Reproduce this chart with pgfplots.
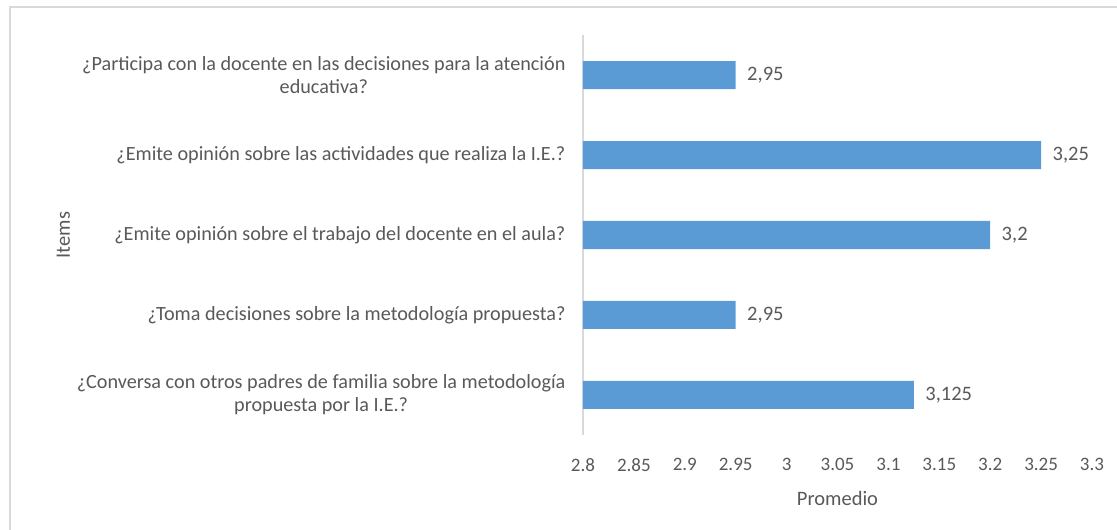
\documentclass[border=0pt]{standalone}
\usepackage{pgfplots}
\pgfplotsset{compat=1.18}
\usepackage{fontspec}
\setmainfont{Carlito}
\definecolor{barblue}{RGB}{91,155,213}
\definecolor{txtgray}{RGB}{89,89,89}
\definecolor{linegray}{RGB}{217,217,217}
\begin{document}
\begin{tikzpicture}
\useasboundingbox (0,0) rectangle (1117pt,530pt);
\draw[linegray, line width=1.2pt] (10pt,0pt) -- (10pt,523pt) -- (1117pt,523pt);
\begin{axis}[at={(583pt,95pt)}, anchor=south west, scale only axis,
  width=509pt, height=400pt,
  xbar, bar width=28pt,
  xmin=2.8, xmax=3.3, ymin=-0.5, ymax=4.5,
  xtick={2.8,2.85,...,3.3},
  xticklabels={2.8,2.85,2.9,2.95,3,3.05,3.1,3.15,3.2,3.25,3.3},
  ytick={0,1,2,3,4},
  yticklabels={{¿Conversa con otros padres de familia sobre la metodología\\propuesta por la I.E.?},
    {¿Toma decisiones sobre la metodología propuesta?},
    {¿Emite opinión sobre el trabajo del docente en el aula?},
    {¿Emite opinión sobre las actividades que realiza la I.E.?},
    {¿Participa con la docente en las decisiones para la atención\\educativa?}},
  yticklabel style={align=center, font=\fontsize{20.2}{23}\selectfont, text=txtgray, xshift=-14pt},
  xticklabel style={font=\fontsize{19}{22}\selectfont, text=txtgray, yshift=-20pt},
  /pgf/number format/assume math mode=true,
  major tick length=0pt,
  axis lines*=left,
  x axis line style={draw=none},
  y axis line style={draw=linegray, line width=1.2pt},
  xlabel={Promedio}, ylabel={Items},
  label style={font=\fontsize{20.5}{24}\selectfont, text=txtgray},
  xlabel style={yshift=-13pt},
  nodes near coords, point meta=explicit symbolic,
  every node near coord/.append style={anchor=west, font=\fontsize{20.5}{24}\selectfont, text=txtgray, xshift=8pt},
  clip=false,
]
\addplot[fill=barblue, draw=none] coordinates {
  (3.125,0) [3,125]
  (2.95,1) [2,95]
  (3.2,2) [3,2]
  (3.25,3) [3,25]
  (2.95,4) [2,95]
};
\end{axis}
\end{tikzpicture}
\end{document}
